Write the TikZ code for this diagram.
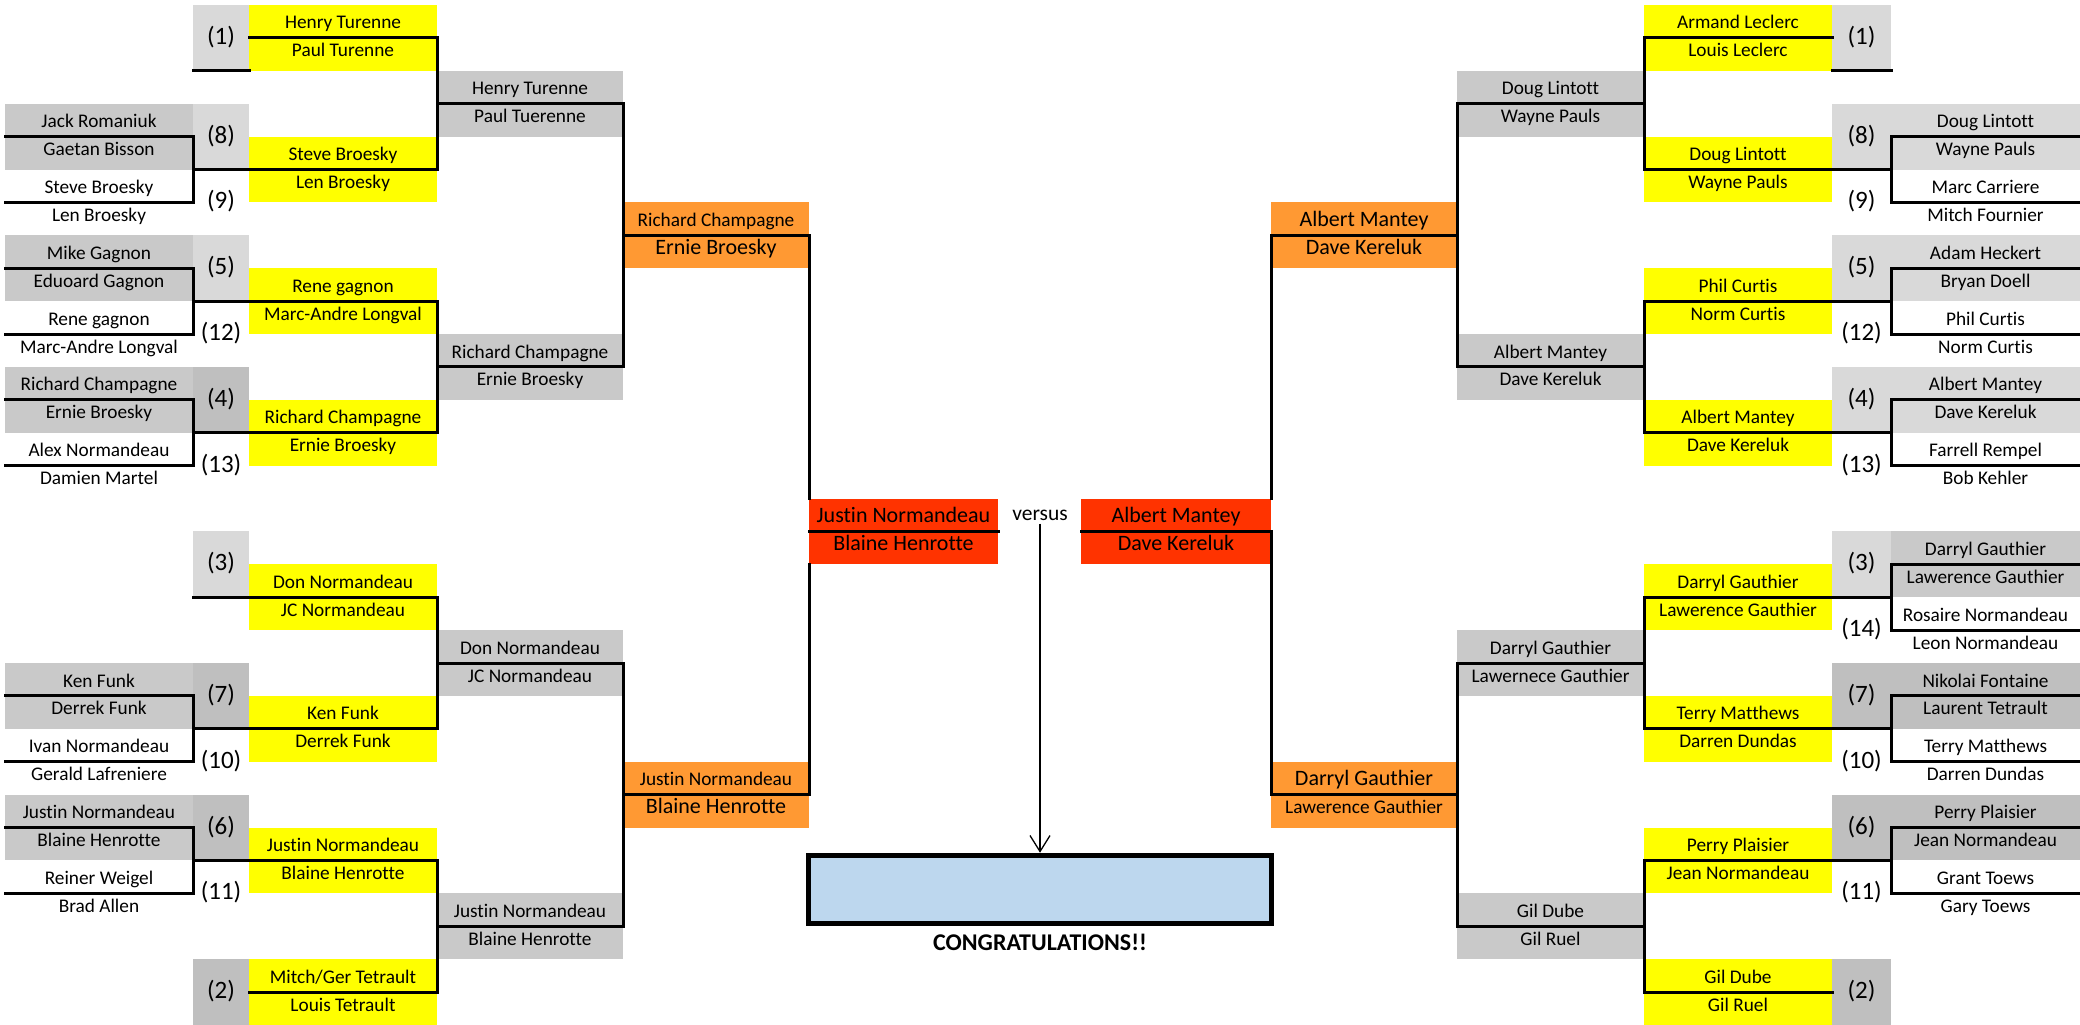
\documentclass[tikz,border=0pt]{standalone}
\usepackage{fontspec}
\setmainfont{Carlito}[Ligatures=NoCommon]
\usepackage{tikz}
\usetikzlibrary{arrows.meta,positioning}

\definecolor{seedlt}{HTML}{D9D9D9}
\definecolor{seeddk}{HTML}{BFBFBF}
\definecolor{namegray}{HTML}{C9C9C9}
\definecolor{winyellow}{HTML}{FFFF00}
\definecolor{semiorange}{HTML}{FF9933}
\definecolor{finalred}{HTML}{FF3300}
\definecolor{champblue}{HTML}{BDD7EE}

\tikzset{
  cell/.style={rectangle, inner sep=0pt, outer sep=0pt, minimum height=32.9pt,
    anchor=north west, font=\fontsize{19.3}{21}\selectfont},
  toprow/.style={text height=20pt, text depth=4.9pt},
  botrow/.style={text height=12pt, text depth=6.9pt},
  seedbox/.style={cell, minimum height=65.8pt, text height=17.5pt, text depth=4.4pt,
    font=\fontsize{25}{27}\selectfont},
  bline/.style={line width=3pt, line cap=rect, line join=miter},
}
\newcommand{\bigtxt}{\fontsize{22}{24}\selectfont}
% two stacked cells: names, left x, width, first row, fill, upper text, lower text
\newcommand{\pair}[8]{%
  \node[cell, toprow, fill=#6, minimum width=#4] (#1) at (#3, {5+32.9*#5}) {#7};
  \node[cell, botrow, fill=#6, minimum width=#4] (#2) at (#3, {5+32.9*(#5+1)}) {#8};}
% seed cell over two rows: name, left x, width, row, fill, label
\newcommand{\seedcell}[6]{%
  \node[seedbox, fill=#5, minimum width=#3] (#1) at (#2, {5+32.9*#4}) {#6};}

\begin{document}
\begin{tikzpicture}[x=1pt, y=-1pt]
\useasboundingbox (0,0) rectangle (2080,1025);

% left half
\pair{L8a}{L8b}{5}{188}{3}{namegray}{Jack Romaniuk}{Gaetan Bisson}
\pair{L9a}{L9b}{5}{188}{5}{none}{Steve Broesky}{Len Broesky}
\pair{L5a}{L5b}{5}{188}{7}{namegray}{Mike Gagnon}{Eduoard Gagnon}
\pair{L12a}{L12b}{5}{188}{9}{none}{Rene gagnon}{Marc-Andre Longval}
\pair{L4a}{L4b}{5}{188}{11}{namegray}{Richard Champagne}{Ernie Broesky}
\pair{L13a}{L13b}{5}{188}{13}{none}{Alex Normandeau}{Damien Martel}
\pair{L7a}{L7b}{5}{188}{20}{namegray}{Ken Funk}{Derrek Funk}
\pair{L10a}{L10b}{5}{188}{22}{none}{Ivan Normandeau}{Gerald Lafreniere}
\pair{L6a}{L6b}{5}{188}{24}{namegray}{Justin Normandeau}{Blaine Henrotte}
\pair{L11a}{L11b}{5}{188}{26}{none}{Reiner Weigel}{Brad Allen}

\seedcell{Ls1}{193}{56}{0}{seedlt}{(1)}
\seedcell{Ls8}{193}{56}{3}{seedlt}{(8)}
\seedcell{Ls9}{193}{56}{5}{none}{(9)}
\seedcell{Ls5}{193}{56}{7}{seedlt}{(5)}
\seedcell{Ls12}{193}{56}{9}{none}{(12)}
\seedcell{Ls4}{193}{56}{11}{seeddk}{(4)}
\seedcell{Ls13}{193}{56}{13}{none}{(13)}
\seedcell{Ls3}{193}{56}{16}{seedlt}{(3)}
\seedcell{Ls7}{193}{56}{20}{seeddk}{(7)}
\seedcell{Ls10}{193}{56}{22}{none}{(10)}
\seedcell{Ls6}{193}{56}{24}{seeddk}{(6)}
\seedcell{Ls11}{193}{56}{26}{none}{(11)}
\seedcell{Ls2}{193}{56}{29}{seeddk}{(2)}

\pair{LY1a}{LY1b}{249}{188}{0}{winyellow}{Henry Turenne}{Paul Turenne}
\pair{LY2a}{LY2b}{249}{188}{4}{winyellow}{Steve Broesky}{Len Broesky}
\pair{LY3a}{LY3b}{249}{188}{8}{winyellow}{Rene gagnon}{Marc-Andre Longval}
\pair{LY4a}{LY4b}{249}{188}{12}{winyellow}{Richard Champagne}{Ernie Broesky}
\pair{LY5a}{LY5b}{249}{188}{17}{winyellow}{Don Normandeau}{JC Normandeau}
\pair{LY6a}{LY6b}{249}{188}{21}{winyellow}{Ken Funk}{Derrek Funk}
\pair{LY7a}{LY7b}{249}{188}{25}{winyellow}{Justin Normandeau}{Blaine Henrotte}
\pair{LY8a}{LY8b}{249}{188}{29}{winyellow}{Mitch/Ger Tetrault}{Louis Tetrault}

\pair{LG1a}{LG1b}{437}{186}{2}{namegray}{Henry Turenne}{Paul Tuerenne}
\pair{LG2a}{LG2b}{437}{186}{10}{namegray}{Richard Champagne}{Ernie Broesky}
\pair{LG3a}{LG3b}{437}{186}{19}{namegray}{Don Normandeau}{JC Normandeau}
\pair{LG4a}{LG4b}{437}{186}{27}{namegray}{Justin Normandeau}{Blaine Henrotte}

\pair{LO1a}{LO1b}{623}{186}{6}{semiorange}{Richard Champagne}{\bigtxt Ernie Broesky}
\pair{LO2a}{LO2b}{623}{186}{23}{semiorange}{Justin Normandeau}{\bigtxt Blaine Henrotte}
\pair{LFa}{LFb}{809}{189}{15}{finalred}{\bigtxt Justin Normandeau}{\bigtxt Blaine Henrotte}

% right half
\pair{RFa}{RFb}{1081}{190}{15}{finalred}{\bigtxt Albert Mantey}{\bigtxt Dave Kereluk}
\pair{RO1a}{RO1b}{1271}{186}{6}{semiorange}{\bigtxt Albert Mantey}{\bigtxt Dave Kereluk}
\pair{RO2a}{RO2b}{1271}{186}{23}{semiorange}{\bigtxt Darryl Gauthier}{Lawerence Gauthier}

\pair{RG1a}{RG1b}{1457}{187}{2}{namegray}{Doug Lintott}{Wayne Pauls}
\pair{RG2a}{RG2b}{1457}{187}{10}{namegray}{Albert Mantey}{Dave Kereluk}
\pair{RG3a}{RG3b}{1457}{187}{19}{namegray}{Darryl Gauthier}{Lawernece Gauthier}
\pair{RG4a}{RG4b}{1457}{187}{27}{namegray}{Gil Dube}{Gil Ruel}

\pair{RY1a}{RY1b}{1644}{188}{0}{winyellow}{Armand Leclerc}{Louis Leclerc}
\pair{RY2a}{RY2b}{1644}{188}{4}{winyellow}{Doug Lintott}{Wayne Pauls}
\pair{RY3a}{RY3b}{1644}{188}{8}{winyellow}{Phil Curtis}{Norm Curtis}
\pair{RY4a}{RY4b}{1644}{188}{12}{winyellow}{Albert Mantey}{Dave Kereluk}
\pair{RY5a}{RY5b}{1644}{188}{17}{winyellow}{Darryl Gauthier}{Lawerence Gauthier}
\pair{RY6a}{RY6b}{1644}{188}{21}{winyellow}{Terry Matthews}{Darren Dundas}
\pair{RY7a}{RY7b}{1644}{188}{25}{winyellow}{Perry Plaisier}{Jean Normandeau}
\pair{RY8a}{RY8b}{1644}{188}{29}{winyellow}{Gil Dube}{Gil Ruel}

\seedcell{Rs1}{1832}{59}{0}{seedlt}{(1)}
\seedcell{Rs8}{1832}{59}{3}{seedlt}{(8)}
\seedcell{Rs9}{1832}{59}{5}{none}{(9)}
\seedcell{Rs5}{1832}{59}{7}{seedlt}{(5)}
\seedcell{Rs12}{1832}{59}{9}{none}{(12)}
\seedcell{Rs4}{1832}{59}{11}{seedlt}{(4)}
\seedcell{Rs13}{1832}{59}{13}{none}{(13)}
\seedcell{Rs3}{1832}{59}{16}{seedlt}{(3)}
\seedcell{Rs14}{1832}{59}{18}{none}{(14)}
\seedcell{Rs7}{1832}{59}{20}{seeddk}{(7)}
\seedcell{Rs10}{1832}{59}{22}{none}{(10)}
\seedcell{Rs6}{1832}{59}{24}{seeddk}{(6)}
\seedcell{Rs11}{1832}{59}{26}{none}{(11)}
\seedcell{Rs2}{1832}{59}{29}{seeddk}{(2)}

\pair{R8a}{R8b}{1891}{189}{3}{seedlt}{Doug Lintott}{Wayne Pauls}
\pair{R9a}{R9b}{1891}{189}{5}{none}{Marc Carriere}{Mitch Fournier}
\pair{R5a}{R5b}{1891}{189}{7}{seedlt}{Adam Heckert}{Bryan Doell}
\pair{R12a}{R12b}{1891}{189}{9}{none}{Phil Curtis}{Norm Curtis}
\pair{R4a}{R4b}{1891}{189}{11}{seedlt}{Albert Mantey}{Dave Kereluk}
\pair{R13a}{R13b}{1891}{189}{13}{none}{Farrell Rempel}{Bob Kehler}
\pair{R3a}{R3b}{1891}{189}{16}{namegray}{Darryl Gauthier}{Lawerence Gauthier}
\pair{R14a}{R14b}{1891}{189}{18}{none}{Rosaire Normandeau}{Leon Normandeau}
\pair{R7a}{R7b}{1891}{189}{20}{seeddk}{Nikolai Fontaine}{Laurent Tetrault}
\pair{R10a}{R10b}{1891}{189}{22}{none}{Terry Matthews}{Darren Dundas}
\pair{R6a}{R6b}{1891}{189}{24}{seeddk}{Perry Plaisier}{Jean Normandeau}
\pair{R11a}{R11b}{1891}{189}{26}{none}{Grant Toews}{Gary Toews}

% bracket lines, left
\draw[bline] (Ls1.south west) -- (Ls1.south east);
\draw[bline] (LY1b.north west) -- (LY1b.north east) -- (LY2b.north east) -- (L9a.north east);
\draw[bline] (L8b.north west) -- (L8b.north east) -- (L9b.north east) -- (L9b.north west);
\draw[bline] (L5b.north west) -- (L5b.north east) -- (L12b.north east) -- (L12b.north west);
\draw[bline] (L4b.north west) -- (L4b.north east) -- (L13b.north east) -- (L13b.north west);
\draw[bline] (L12a.north east) -- (LY3b.north east) -- (LY4b.north east) -- (L13a.north east);
\draw[bline] (LG1b.north west) -- (LG1b.north east) -- (LG2b.north east) -- (LG2b.north west);
\draw[bline] (LO1b.north west) -- (LO1b.north east) -- (LFa.north west);
\draw[bline] (LFb.north west) -- (LFb.north east);
\draw[bline] (LFb.south west) -- (LO2b.north east) -- (LO2b.north west);
\draw[bline] (Ls3.south west) -- (LY5b.north east) -- (LY6b.north east) -- (L10a.north east);
\draw[bline] (L7b.north west) -- (L7b.north east) -- (L10b.north east) -- (L10b.north west);
\draw[bline] (L6b.north west) -- (L6b.north east) -- (L11b.north east) -- (L11b.north west);
\draw[bline] (L11a.north east) -- (LY7b.north east) -- (LY8b.north east) -- (LY8b.north west);
\draw[bline] (LG3b.north west) -- (LG3b.north east) -- (LG4b.north east) -- (LG4b.north west);

% bracket lines, right
\draw[bline] (Rs1.south west) -- (Rs1.south east);
\draw[bline] (RY1b.north east) -- (RY1b.north west) -- (RY2b.north west) -- (R9a.north west);
\draw[bline] (R8b.north east) -- (R8b.north west) -- (R9b.north west) -- (R9b.north east);
\draw[bline] (R5b.north east) -- (R5b.north west) -- (R12b.north west) -- (R12b.north east);
\draw[bline] (R4b.north east) -- (R4b.north west) -- (R13b.north west) -- (R13b.north east);
\draw[bline] (R12a.north west) -- (RY3b.north west) -- (RY4b.north west) -- (R13a.north west);
\draw[bline] (RG1b.north east) -- (RG1b.north west) -- (RG2b.north west) -- (RG2b.north east);
\draw[bline] (RO1b.north east) -- (RO1b.north west) -- (RFa.north east);
\draw[bline] (RFb.north west) -- (RFb.north east) -- (RO2b.north west) -- (RO2b.north east);
\draw[bline] (R3b.north east) -- (R3b.north west) -- (R14b.north west) -- (R14b.north east);
\draw[bline] (R7b.north east) -- (R7b.north west) -- (R10b.north west) -- (R10b.north east);
\draw[bline] (R14a.north west) -- (RY5b.north west) -- (RY6b.north west) -- (R10a.north west);
\draw[bline] (R6b.north east) -- (R6b.north west) -- (R11b.north west) -- (R11b.north east);
\draw[bline] (R11a.north west) -- (RY7b.north west) -- (RY8b.north west) -- (RY8b.north east);
\draw[bline] (RG3b.north east) -- (RG3b.north west) -- (RG4b.north west) -- (RG4b.north east);

% final
\node[anchor=base, font=\fontsize{21.5}{23}\selectfont] (vs) at (1040,520) {versus};
\node[draw, line width=5.5pt, fill=champblue, minimum width=463pt, minimum height=68pt,
  inner sep=0pt] (champ) at (1040,889.5) {};
\node[below=4pt of champ, font=\bfseries\fontsize{24}{26}\selectfont] (congrats) {CONGRATULATIONS!!};
\draw[line width=1.3pt, -{Straight Barb[length=16pt, width=20pt]}] (vs.south) -- (vs.south |- champ.north);
\end{tikzpicture}
\end{document}
